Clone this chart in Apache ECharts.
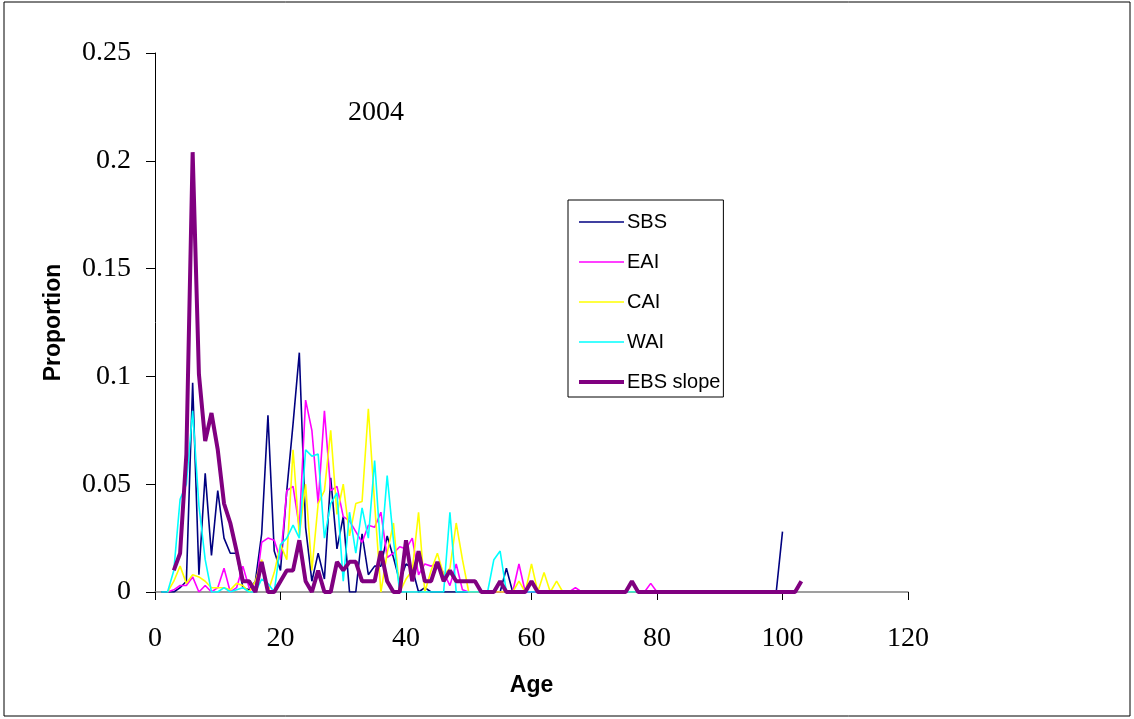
<!DOCTYPE html>
<html>
<head>
<meta charset="utf-8">
<script src="https://cdn.jsdelivr.net/npm/echarts@6/dist/echarts.min.js"></script>
<style>
  body { margin: 0; background: #fff; }
  #chart { width: 1134px; height: 719px; }
</style>
</head>
<body>
<div id="chart"></div>
<script>
// ages 1..103
const ages = [
  1, 2, 3, 4, 5, 6, 7, 8, 9, 10, 11, 12, 13, 14, 15, 16, 17, 18, 19, 20,
  21, 22, 23, 24, 25, 26, 27, 28, 29, 30, 31, 32, 33, 34, 35, 36, 37, 38, 39, 40,
  41, 42, 43, 44, 45, 46, 47, 48, 49, 50, 51, 52, 53, 54, 55, 56, 57, 58, 59, 60,
  61, 62, 63, 64, 65, 66, 67, 68, 69, 70, 71, 72, 73, 74, 75, 76, 77, 78, 79, 80,
  81, 82, 83, 84, 85, 86, 87, 88, 89, 90, 91, 92, 93, 94, 95, 96, 97, 98, 99, 100,
  101, 102, 103
];

const sbs = [
  0, 0, 0, 0.002, 0.005, 0.097, 0.008, 0.055, 0.017, 0.047,
  0.025, 0.018, 0.018, 0.002, 0.001, 0.005, 0.027, 0.082, 0.019, 0.010,
  0.047, 0.078, 0.111, 0.030, 0.005, 0.018, 0.006, 0.053, 0.020, 0.035,
  0, 0, 0.027, 0.008, 0.012, 0.012, 0.026, 0.016, 0.005, 0.013,
  0.011, 0, 0.002, 0, 0, 0, 0, 0, 0, 0,
  0, 0, 0, 0, 0, 0.011, 0, 0, 0, 0,
  0, 0, 0, 0, 0, 0, 0, 0, 0, 0,
  0, 0, 0, 0, 0, 0, 0, 0, 0, 0,
  0, 0, 0, 0, 0, 0, 0, 0, 0, 0,
  0, 0, 0, 0, 0, 0, 0, 0, 0, 0.028,
  null, null, null
];

const eai = [
  null, 0, 0.001, 0.003, 0.003, 0.007, 0, 0.003, 0, 0.002,
  0.011, 0, 0.002, 0.012, 0.002, 0, 0.023, 0.025, 0.024, 0.015,
  0.047, 0.049, 0.030, 0.089, 0.075, 0.041, 0.084, 0.047, 0.049, 0.035,
  0.033, 0.028, 0.023, 0.031, 0.030, 0.037, 0.016, 0.018, 0.021, 0.020,
  0.025, 0.008, 0.013, 0.012, 0.013, 0.009, 0.003, 0.013, 0.001, 0,
  0, 0, 0, 0, 0, 0, 0, 0.013, 0, 0,
  0, 0, 0, 0, 0, 0, 0.002, 0, 0, 0,
  0, 0, 0, 0, 0, 0, 0, 0, 0.004, 0,
  0, 0, 0, 0, 0, 0, 0, 0, 0, 0,
  0, 0, 0, 0, 0, 0, 0, 0, 0, null,
  null, null, null
];

const cai = [
  null, 0, 0.005, 0.012, 0.004, 0.008, 0.007, 0.005, 0.002, 0.002,
  0.002, 0.001, 0.004, 0.003, 0, 0.005, 0.015, 0, 0.009, 0.022,
  0.015, 0.066, 0.026, 0.050, 0.010, 0.041, 0.047, 0.075, 0.036, 0.050,
  0.026, 0.041, 0.042, 0.085, 0.041, 0, 0.018, 0.032, 0, 0.006,
  0.010, 0.037, 0, 0.010, 0.018, 0.008, 0.011, 0.032, 0.015, 0,
  0, 0, 0, 0, 0, 0, 0, 0.005, 0, 0.013,
  0, 0.009, 0, 0.005, 0, 0, 0, 0, 0, 0,
  0, 0, 0, 0, 0, 0, 0, 0, 0, 0,
  0, 0, 0, 0, 0, 0, 0, 0, 0, 0,
  0, 0, 0, 0, 0, 0, 0, 0, 0, null,
  null, null, null
];

const wai = [
  0, 0, 0.010, 0.043, 0.050, 0.084, 0.040, 0.015, 0, 0,
  0.002, 0, 0.001, 0.002, 0, 0, 0.006, 0.004, 0, 0.022,
  0.025, 0.031, 0.025, 0.066, 0.063, 0.064, 0.025, 0.041, 0.046, 0.005,
  0.037, 0.018, 0.039, 0.025, 0.061, 0.018, 0.054, 0.024, 0, 0,
  0, 0, 0, 0, 0, 0, 0.037, 0, 0, 0,
  0, 0, 0, 0.015, 0.019, 0, 0, 0, 0, 0,
  0, 0, 0, 0, 0, 0, 0, 0, 0, 0,
  0, 0, 0, 0, 0, 0, 0, 0, 0, 0,
  0, 0, 0, 0, 0, 0, 0, 0, 0, 0,
  0, 0, 0, 0, 0, 0, 0, 0, 0, null,
  null, null, null
];

const ebsSlope = [
  null, null, 0.010, 0.018, 0.064, 0.204, 0.101, 0.070, 0.083, 0.066,
  0.041, 0.032, 0.019, 0.005, 0.005, 0, 0.014, 0, 0, 0.005,
  0.010, 0.010, 0.024, 0.005, 0, 0.010, 0, 0, 0.014, 0.010,
  0.014, 0.014, 0.005, 0.005, 0.005, 0.019, 0.005, 0, 0, 0.024,
  0.005, 0.019, 0.005, 0.005, 0.014, 0.005, 0.010, 0.005, 0.005, 0.005,
  0.005, 0, 0, 0, 0.005, 0, 0, 0, 0, 0.005,
  0, 0, 0, 0, 0, 0, 0, 0, 0, 0,
  0, 0, 0, 0, 0, 0.005, 0, 0, 0, 0,
  0, 0, 0, 0, 0, 0, 0, 0, 0, 0,
  0, 0, 0, 0, 0, 0, 0, 0, 0, 0,
  0, 0, 0.005
];

const yTicks = [0, 0.05, 0.1, 0.15, 0.2, 0.25];

function pairs(vals) {
  return ages.map((a, i) => [a, vals[i]]).filter(p => p[1] !== null);
}

function lineSeries(name, vals, color, width) {
  return {
    name: name,
    type: 'line',
    data: pairs(vals),
    symbol: 'none',
    color: color,
    lineStyle: { color: color, width: width },
    z: width > 2 ? 5 : 2
  };
}

const chart = echarts.init(document.getElementById('chart'));
chart.setOption({
  animation: false,
  backgroundColor: '#fff',
  title: {
    text: '2004',
    left: 371,
    top: 94,
    textAlign: 'center',
    textStyle: { fontFamily: 'Liberation Serif', fontSize: 28, fontWeight: 'normal', color: '#000' }
  },
  legend: {
    orient: 'vertical',
    left: 568,
    top: 200,
    itemWidth: 45,
    itemHeight: 20,
    itemGap: 20,
    padding: [12, 3, 5, 9],
    borderColor: '#000',
    borderWidth: 1,
    itemStyle: { opacity: 0 },
    lineStyle: { width: 'inherit' },
    textStyle: { fontFamily: 'Liberation Sans', fontSize: 20, color: '#000', padding: [0, 0, 0, -2] },
    data: ['SBS', 'EAI', 'CAI', 'WAI', 'EBS slope']
  },
  grid: { left: 155, top: 53, right: 226, bottom: 127 },
  xAxis: {
    type: 'value',
    min: 0,
    max: 120,
    interval: 20,
    name: 'Age',
    nameLocation: 'middle',
    nameGap: 82,
    nameTextStyle: { fontFamily: 'Liberation Sans', fontSize: 23, fontWeight: 'bold', color: '#000' },
    axisLine: { show: true, lineStyle: { color: '#808080', width: 1.5 } },
    axisTick: { show: true, length: 8, lineStyle: { color: '#000' } },
    axisLabel: { margin: 33, fontFamily: 'Liberation Serif', fontSize: 28, color: '#000' },
    splitLine: { show: false }
  },
  yAxis: {
    type: 'value',
    min: yTicks[0],
    max: yTicks[yTicks.length - 1],
    interval: 0.05,
    name: 'Proportion',
    nameLocation: 'middle',
    nameGap: 90,
    nameRotate: 90,
    nameTextStyle: { fontFamily: 'Liberation Sans', fontSize: 23, fontWeight: 'bold', color: '#000' },
    axisLine: { show: true, lineStyle: { color: '#000', width: 1 } },
    axisTick: { show: true, length: 9, lineStyle: { color: '#000' } },
    axisLabel: { margin: 24, fontFamily: 'Liberation Serif', fontSize: 28, color: '#000' },
    splitLine: { show: false }
  },
  graphic: [{
    type: 'rect',
    shape: { x: 4, y: 2, width: 1126, height: 714 },
    style: { fill: null, stroke: '#000', lineWidth: 1 },
    silent: true
  }],
  series: [
    lineSeries('SBS', sbs, '#000080', 1.6),
    lineSeries('EAI', eai, '#FF00FF', 1.6),
    lineSeries('CAI', cai, '#FFFF00', 1.6),
    lineSeries('WAI', wai, '#00FFFF', 1.6),
    lineSeries('EBS slope', ebsSlope, '#800080', 4)
  ]
});
</script>
</body>
</html>
